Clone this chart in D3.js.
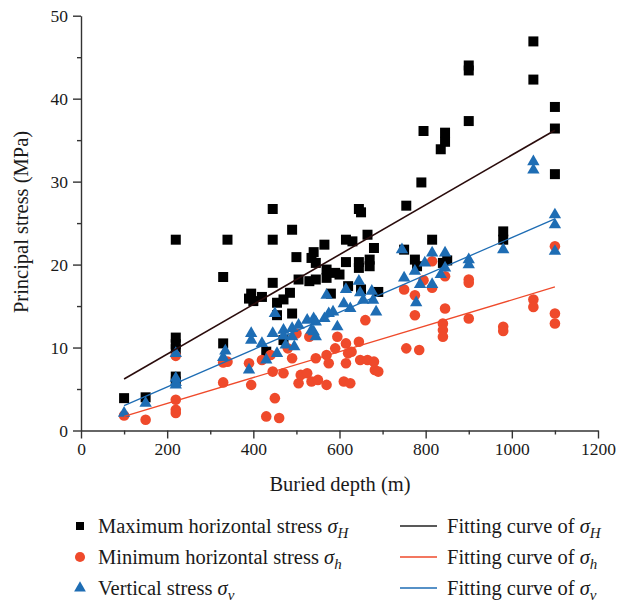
<!DOCTYPE html>
<html>
<head>
<meta charset="utf-8">
<script src="https://cdn.jsdelivr.net/npm/d3@7"></script>
<style>
  body { margin: 0; background: #fff; }
  svg text { font-family: "Liberation Serif", "DejaVu Serif", serif; fill: #1a1a1a; }
</style>
</head>
<body>
<svg id="canvas" width="632" height="607"></svg>
<script>
// Data: [buried depth (m), stress (MPa)]
const sigmaH = [
  [100,3.9],[150,4.0],[220,23.0],[220,11.2],[220,10.4],[220,9.8],[220,6.5],[220,5.9],
  [330,18.5],[330,10.5],[340,23.0],[390,15.9],[395,16.5],[400,15.6],[420,16.1],[430,9.5],
  [445,26.7],[445,23.0],[445,17.8],[455,15.4],[455,13.9],[470,15.8],[470,10.9],[485,16.6],
  [490,14.1],[490,24.2],[500,20.9],[505,18.2],[530,18.0],[535,20.8],[540,21.5],[545,20.2],
  [545,18.2],[565,22.4],[570,18.4],[570,19.4],[580,16.5],[590,19.0],[600,18.8],[615,20.3],
  [615,23.0],[620,17.4],[630,22.8],[645,26.7],[650,26.3],[645,20.3],[645,19.6],[650,17.0],
  [665,23.6],[670,20.6],[670,19.8],[680,22.0],[690,16.7],[750,21.8],[755,27.1],[775,20.6],
  [780,19.8],[790,29.9],[795,36.1],[815,23.0],[835,33.9],[840,20.2],[845,35.9],[845,34.8],
  [850,20.5],[900,44.0],[900,43.4],[900,37.3],[980,24.0],[980,23.0],[1050,46.9],[1050,42.3],
  [1100,39.0],[1100,36.4],[1100,30.9]
];
const sigmaHmin = [
  [100,1.8],[150,1.3],[220,9.0],[220,3.7],[220,2.5],[220,2.1],[330,8.2],[330,5.8],[340,8.3],
  [390,8.1],[395,5.5],[420,8.5],[430,1.7],[440,9.1],[445,7.1],[450,3.9],[460,1.5],[470,6.9],
  [480,9.9],[490,8.7],[500,11.7],[505,5.7],[510,6.7],[525,6.9],[530,11.3],[535,5.9],[545,8.7],
  [550,6.1],[570,5.5],[570,9.1],[575,8.1],[590,9.9],[595,11.3],[610,5.9],[615,10.5],[615,8.1],
  [620,9.3],[625,5.7],[628,9.5],[645,10.7],[648,8.5],[660,13.3],[665,8.5],[680,8.3],[682,7.3],
  [690,7.1],[750,17.0],[755,9.9],[775,16.3],[775,13.9],[785,9.7],[795,18.1],[815,17.2],
  [815,20.4],[840,12.9],[840,12.1],[840,11.3],[845,18.6],[845,14.7],[900,18.2],[900,17.8],
  [900,13.5],[980,12.5],[980,12.0],[1050,15.8],[1050,14.9],[1100,22.2],[1100,14.1],[1100,12.9]
];
const sigmaV = [
  [100,2.1],[150,3.3],[220,9.3],[220,6.3],[220,5.8],[220,5.5],[330,8.8],[335,9.6],
  [390,7.3],[395,11.7],[395,10.9],[420,10.5],[430,8.5],[450,14.1],[445,11.7],[455,9.3],
  [470,12.1],[470,11.4],[475,10.3],[490,12.3],[490,11.3],[495,10.1],[505,12.7],[525,13.3],
  [535,12.1],[540,13.5],[540,11.9],[545,13.1],[545,11.3],[565,13.5],[570,16.3],[575,14.1],
  [585,14.3],[595,12.5],[610,15.3],[615,17.0],[625,14.7],[645,18.0],[648,16.6],[655,15.7],
  [675,16.8],[678,15.7],[685,14.3],[745,21.8],[750,18.4],[775,19.2],[778,15.4],[787,17.6],
  [798,20.2],[815,21.4],[815,17.6],[835,18.8],[845,21.4],[845,19.6],[900,20.6],[900,20.0],
  [980,21.8],[1050,32.4],[1050,31.4],[1100,26.0],[1100,24.8],[1100,21.6]
];
// Fitting lines, end points
const fitH = [[100,6.2],[1100,36.2]];
const fith = [[100,1.7],[1100,17.3]];
const fitV = [[100,3.0],[1100,25.5]];

const xTicks = [0,200,400,600,800,1000,1200];
const xMinor = [100,300,500,700,900,1100];
const yTicks = [0,10,20,30,40,50];
const yMinor = [5,15,25,35,45];

const svg = d3.select("#canvas");
const x = d3.scaleLinear().domain([0,1200]).range([81,598]);
const y = d3.scaleLinear().domain([0,50]).range([430.5,15.7]);

const black = "#000", red = "#ef4a2b", blue = "#1e6db4";

// --- Axes ---
const axisColor = "#333";
function styleAxis(g) {
  g.selectAll("path, line").attr("stroke", axisColor).attr("stroke-width", 1.4);
  g.selectAll("text").attr("font-size", 17.5).attr("fill", "#1a1a1a")
    .attr("font-family", "Liberation Serif, serif");
}
svg.append("g").attr("transform", "translate(0,430.5)")
  .call(d3.axisBottom(x).tickValues(xMinor).tickSize(4).tickFormat(""))
  .call(g => g.select(".domain").remove()).call(styleAxis);
svg.append("g").attr("transform", "translate(0,430.5)")
  .call(d3.axisBottom(x).tickValues(xTicks).tickSize(8).tickSizeOuter(0).tickPadding(4)
    .tickFormat(d3.format("d")))
  .call(styleAxis);
svg.append("g").attr("transform", "translate(81,0)")
  .call(d3.axisLeft(y).tickValues(yMinor).tickSize(4).tickFormat(""))
  .call(g => g.select(".domain").remove()).call(styleAxis);
svg.append("g").attr("transform", "translate(81,0)")
  .call(d3.axisLeft(y).tickValues(yTicks).tickSize(8).tickSizeOuter(0).tickPadding(5))
  .call(styleAxis);

svg.append("text").attr("x", 340).attr("y", 491).attr("text-anchor", "middle")
  .attr("font-size", 20.5).text("Buried depth (m)");
svg.append("text").attr("transform", "translate(28,222) rotate(-90)")
  .attr("text-anchor", "middle").attr("font-size", 20.5).text("Principal stress (MPa)");

// --- Points ---
const sq = d3.symbol(d3.symbolSquare, 100);
const ci = d3.symbol(d3.symbolCircle, 88);
const tr = d3.symbol(d3.symbolTriangle, 66);

function drawPoints(data, sym, color) {
  svg.append("g").selectAll("path").data(data).enter().append("path")
    .attr("d", sym)
    .attr("transform", d => `translate(${x(d[0])},${y(d[1])})`)
    .attr("fill", color);
}
drawPoints(sigmaH, sq, black);
drawPoints(sigmaHmin, ci, red);
drawPoints(sigmaV, tr, blue);

// --- Fitting lines ---
const line = d3.line().x(d => x(d[0])).y(d => y(d[1]));
svg.append("path").datum(fitH).attr("d", line).attr("stroke", "#2a0c0c").attr("stroke-width", 1.6).attr("fill", "none");
svg.append("path").datum(fith).attr("d", line).attr("stroke", red).attr("stroke-width", 1.3).attr("fill", "none");
svg.append("path").datum(fitV).attr("d", line).attr("stroke", blue).attr("stroke-width", 1.3).attr("fill", "none");

// --- Legend ---
const rows = [
  { label: "Maximum horizontal stress ", sub: "H", sym: d3.symbol(d3.symbolSquare, 64), color: black, lc: "#222" },
  { label: "Minimum horizontal stress ", sub: "h", sym: d3.symbol(d3.symbolCircle, 80), color: red, lc: red },
  { label: "Vertical stress ", sub: "v", sym: d3.symbol(d3.symbolTriangle, 60), color: blue, lc: blue }
];
rows.forEach((r, i) => {
  const cy = 526 + i * 31;
  svg.append("path").attr("d", r.sym).attr("transform", `translate(80,${cy})`).attr("fill", r.color);
  const t = svg.append("text").attr("x", 98).attr("y", cy + 7).attr("font-size", 20.5);
  t.append("tspan").text(r.label);
  t.append("tspan").attr("font-style", "italic").text("σ");
  t.append("tspan").attr("font-style", "italic").attr("font-size", 15).attr("dy", 5).text(r.sub);

  svg.append("line").attr("x1", 400).attr("x2", 437).attr("y1", cy).attr("y2", cy)
    .attr("stroke", r.lc).attr("stroke-width", 1.4);
  const t2 = svg.append("text").attr("x", 447).attr("y", cy + 7).attr("font-size", 20.5);
  t2.append("tspan").text("Fitting curve of ");
  t2.append("tspan").attr("font-style", "italic").text("σ");
  t2.append("tspan").attr("font-style", "italic").attr("font-size", 15).attr("dy", 5).text(r.sub);
});
</script>
</body>
</html>
